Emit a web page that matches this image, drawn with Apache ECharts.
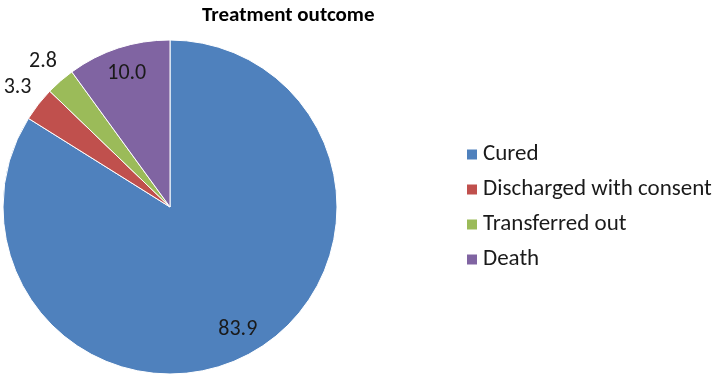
<!DOCTYPE html>
<html>
<head>
<meta charset="utf-8">
<script src="https://cdn.jsdelivr.net/npm/echarts@6/dist/echarts.min.js"></script>
<style>
  html, body { margin: 0; padding: 0; background: #fff; }
  #chart { width: 714px; height: 377px; }
</style>
</head>
<body>
<div id="chart"></div>
<script>
const categories = ['Cured', 'Discharged with consent', 'Transferred out', 'Death']
const values = [83.9, 3.3, 2.8, 10.0]
const colors = ['#4F81BD', '#C0504D', '#9BBB59', '#8064A2']
// which labels sit inside the slice, the rest go just outside
const insideLabel = [true, false, false, true]

const R = 167
const center = [170, 207]
const font = 'Carlito, Calibri, Lato, sans-serif'

const pieData = categories.map((name, i) => ({
  name: name,
  value: values[i],
  itemStyle: { color: colors[i] }
}))

function labelData(inside) {
  return categories.map((name, i) => ({
    name: name,
    value: values[i],
    label: { show: insideLabel[i] === inside }
  }))
}

const overlay = {
  type: 'pie',
  center: center,
  startAngle: 90,
  silent: true,
  avoidLabelOverlap: false,
  itemStyle: { color: 'rgba(0,0,0,0)' },
  emphasis: { disabled: true },
  labelLine: { show: false },
  label: {
    position: 'inside',
    formatter: (p) => p.value.toFixed(1),
    color: '#1a1a1a',
    fontSize: 22,
    fontFamily: font
  }
}

const myChart = echarts.init(document.getElementById('chart'))
myChart.setOption({
  animation: false,
  title: {
    text: 'Treatment outcome',
    left: 197,
    top: 0,
    textStyle: { fontSize: 21, fontWeight: 'bold', color: '#000', fontFamily: font }
  },
  legend: {
    orient: 'vertical',
    left: 460,
    top: 138,
    itemWidth: 12,
    itemHeight: 12,
    itemGap: 12,
    icon: 'rect',
    data: categories,
    textStyle: { fontSize: 23, color: '#1a1a1a', fontFamily: font }
  },
  series: [
    {
      type: 'pie',
      center: center,
      radius: [0, R],
      startAngle: 90,
      label: { show: false },
      labelLine: { show: false },
      itemStyle: { borderColor: '#fff', borderWidth: 1 },
      emphasis: { scale: false },
      data: pieData
    },
    Object.assign({}, overlay, { radius: [R * 0.64, R], data: labelData(true) }),
    Object.assign({}, overlay, { radius: [R, R * 1.28], data: labelData(false) })
  ]
})
</script>
</body>
</html>
